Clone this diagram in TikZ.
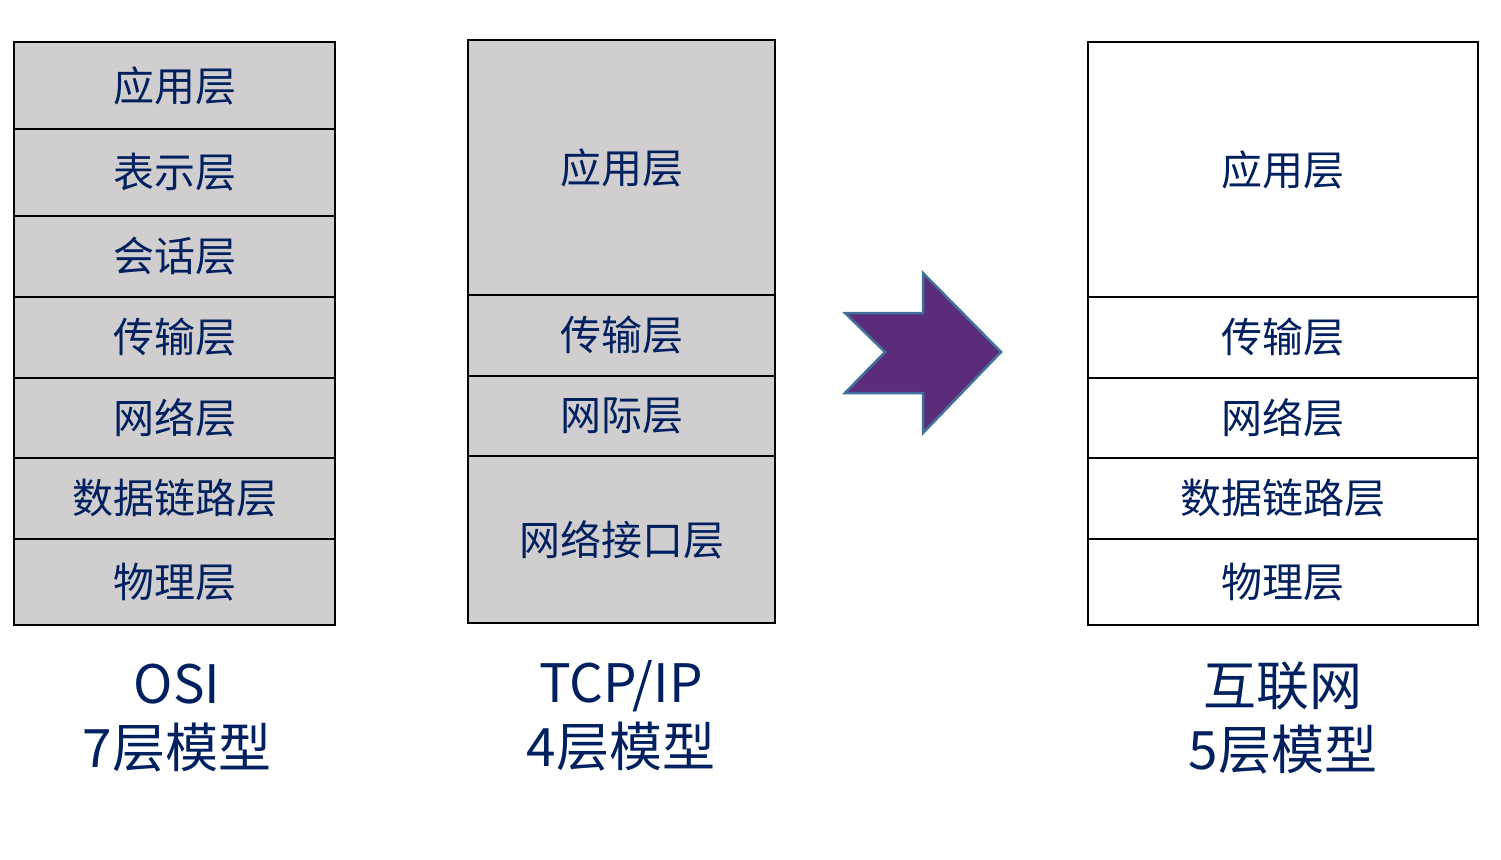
\documentclass[tikz,border=0pt]{standalone}
\usepackage{fontspec}
\setmainfont{Noto Sans CJK SC}
\definecolor{navy}{RGB}{0,32,96}
\definecolor{boxgray}{RGB}{208,206,206}
\definecolor{arrowfill}{RGB}{91,44,121}
\definecolor{arrowline}{RGB}{65,113,156}
\tikzset{
  layer/.style={draw=black, line width=2.5pt, rectangle, inner sep=0pt,
    text=navy, font=\fontsize{41}{48}\selectfont},
  graylayer/.style={layer, fill=boxgray},
  whitelayer/.style={layer, fill=white},
  caption/.style={text=navy, align=center, inner sep=0pt,
    font=\fontsize{53}{64}\selectfont}
}
\begin{document}
\begin{tikzpicture}[x=1pt,y=-1pt]
\useasboundingbox[fill=white] (0,0) rectangle (1501,859);
% OSI
\node[graylayer, minimum width=321pt, minimum height=87pt] (o1) at (174.5,85.5) {应用层};
\node[graylayer, minimum width=321pt, minimum height=87pt] (o2) at (174.5,172.5) {表示层};
\node[graylayer, minimum width=321pt, minimum height=81pt] (o3) at (174.5,256.5) {会话层};
\node[graylayer, minimum width=321pt, minimum height=81pt] (o4) at (174.5,337.5) {传输层};
\node[graylayer, minimum width=321pt, minimum height=80pt] (o5) at (174.5,418) {网络层};
\node[graylayer, minimum width=321pt, minimum height=81pt] (o6) at (174.5,498.5) {数据链路层};
\node[graylayer, minimum width=321pt, minimum height=86pt] (o7) at (174.5,582) {物理层};
% TCP/IP
\node[graylayer, minimum width=307pt, minimum height=255pt] (t1) at (621.5,167.5) {应用层};
\node[graylayer, minimum width=307pt, minimum height=81pt] (t2) at (621.5,335.5) {传输层};
\node[graylayer, minimum width=307pt, minimum height=80pt] (t3) at (621.5,416) {网际层};
\node[graylayer, minimum width=307pt, minimum height=167pt] (t4) at (621.5,539.5) {网络接口层};
% Internet
\node[whitelayer, minimum width=390pt, minimum height=255pt] (i1) at (1283,169.5) {应用层};
\node[whitelayer, minimum width=390pt, minimum height=81pt] (i2) at (1283,337.5) {传输层};
\node[whitelayer, minimum width=390pt, minimum height=80pt] (i3) at (1283,418) {网络层};
\node[whitelayer, minimum width=390pt, minimum height=81pt] (i4) at (1283,498.5) {数据链路层};
\node[whitelayer, minimum width=390pt, minimum height=86pt] (i5) at (1283,582) {物理层};
% arrow
\draw[fill=arrowfill, draw=arrowline, line width=2.5pt, line join=miter]
  (845,313) -- (923,313) -- (923,273) -- (1001,352) -- (923,433) -- (923,393)
  -- (845,393) -- (885,352) -- cycle;
% captions
\node[caption] (c1) at (177,718) {OSI\\7层模型};
\node[caption] (c2) at (621,716) {TCP/IP\\4层模型};
\node[caption] (c3) at (1283,718) {互联网\\5层模型};
\end{tikzpicture}
\end{document}
